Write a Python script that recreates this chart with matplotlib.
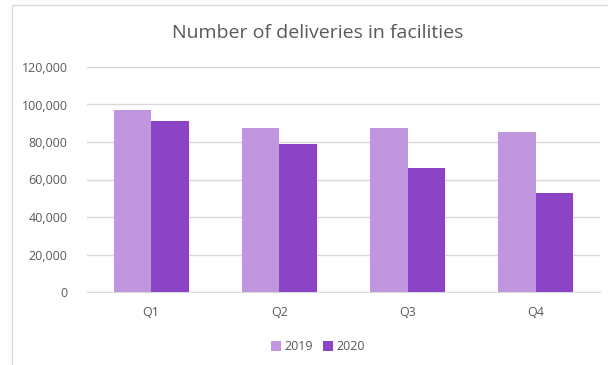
import matplotlib
matplotlib.use('Agg')
import matplotlib.pyplot as plt
import matplotlib.patches as patches
import numpy as np

# datos
quarters = ["Q1", "Q2", "Q3", "Q4"]
deliveries_2019 = [97300, 87500, 87500, 85400]
deliveries_2020 = [91400, 79000, 66100, 52800]
series_names = ["2019", "2020"]

color_2019 = '#C097DE'
color_2020 = '#8C44C6'
gris = '#595959'

plt.rcParams['font.family'] = ['Open Sans', 'DejaVu Sans']

fig = plt.figure(figsize=(6.08, 3.65), dpi=100)
ax = fig.add_axes([87 / 608, 1 - 292 / 365, (600 - 87) / 608, (292 - 67) / 365])

# borde del area del grafico
fig.patches.append(patches.Rectangle((12 / 608, -0.01), 1.0, 1 - 5 / 365 + 0.01,
                                     transform=fig.transFigure, fill=False,
                                     edgecolor='#D9D9D9', linewidth=1))

x = np.arange(len(quarters))
w = 0.293
ax.bar(x - w / 2, deliveries_2019, w, color=color_2019, label=series_names[0], zorder=3)
ax.bar(x + w / 2, deliveries_2020, w, color=color_2020, label=series_names[1], zorder=3)

ax.set_xlim(-0.5, 3.5)
ax.set_ylim(0, 120000)
ax.set_yticks(range(0, 120001, 20000))
ax.set_yticklabels(["0" if v == 0 else "{:,}".format(v) for v in range(0, 120001, 20000)])
ax.set_xticks(x)
ax.set_xticklabels(quarters)
ax.tick_params(axis='both', length=0, colors=gris, labelsize=9)
ax.tick_params(axis='y', pad=14)
ax.tick_params(axis='x', pad=10)

ax.grid(axis='y', color='#D9D9D9', linewidth=1, zorder=0)
for s in ['top', 'right', 'left']:
    ax.spines[s].set_visible(False)
ax.spines['bottom'].set_color('#D9D9D9')

fig.text(0.522, 1 - 33 / 365, "Number of deliveries in facilities", ha='center',
         va='center', fontsize=14, color=gris)

fig.legend(loc='center', bbox_to_anchor=(318 / 608, 1 - 347 / 365), ncol=2,
           frameon=False, fontsize=9, handlelength=0.8, handleheight=0.8,
           handletextpad=0.3, columnspacing=0.8, labelcolor=gris)

fig.savefig("out.png", dpi=100)
